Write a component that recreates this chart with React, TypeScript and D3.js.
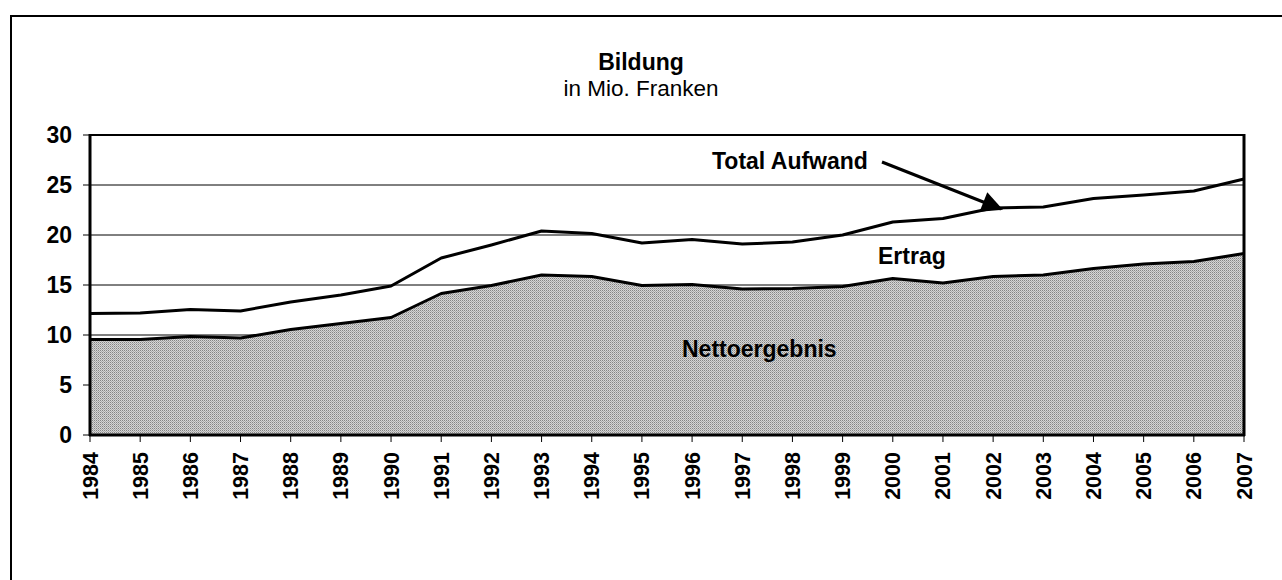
import React from "react";
import * as d3 from "d3";

const years = [1984,1985,1986,1987,1988,1989,1990,1991,1992,1993,1994,1995,1996,1997,1998,1999,2000,2001,2002,2003,2004,2005,2006,2007];
const totalAufwand = [12.15,12.2,12.55,12.4,13.3,14.0,14.9,17.7,19.0,20.4,20.15,19.2,19.55,19.1,19.3,20.0,21.3,21.65,22.7,22.8,23.65,24.0,24.4,25.6];
const nettoergebnis = [9.55,9.55,9.85,9.7,10.55,11.15,11.75,14.15,14.95,16.0,15.85,14.95,15.05,14.6,14.65,14.85,15.65,15.2,15.85,16.0,16.65,17.1,17.35,18.15];
const yTicks = [0,5,10,15,20,25,30];
const gridValues = [10,15,20,25];

const W = 1282, H = 580;
const left = 90, right = 1244, top = 135, bottom = 435;
const font = "'Liberation Sans', Arial, sans-serif";

export default function App() {
  const x = d3.scaleLinear().domain([years[0], years[years.length - 1]]).range([left, right]);
  const y = d3.scaleLinear().domain([0, 30]).range([bottom, top]);

  const areaTotal = d3.area<number>().x((_, i) => x(years[i])).y0(bottom).y1(d => y(d));
  const line = d3.line<number>().x((_, i) => x(years[i])).y(d => y(d));

  return (
    <svg width={W} height={H} style={{ position: "absolute", left: 0, top: 0, display: "block" }}>
      <defs>
        <pattern id="dots" width="2" height="2" patternUnits="userSpaceOnUse">
          <rect width="2" height="2" fill="#d6d6d6" />
          <rect x="0" y="0" width="1" height="1" fill="#858585" />
          <rect x="1" y="1" width="1" height="1" fill="#ababab" />
        </pattern>
        <marker id="arrow" viewBox="0 0 10 10" refX="9" refY="5" markerWidth="8" markerHeight="7" markerUnits="strokeWidth" orient="auto">
          <path d="M0,0 L10,5 L0,10 z" fill="#000" />
        </marker>
      </defs>
      <rect x={0} y={0} width={W} height={H} fill="#fff" />
      <rect x={11} y={16} width={W + 20} height={H + 20} fill="none" stroke="#000" strokeWidth={2} />

      <text x={641} y={70} textAnchor="middle" fontFamily={font} fontWeight="bold" fontSize={23}>Bildung</text>
      <text x={641} y={96} textAnchor="middle" fontFamily={font} fontSize={22.5}>in Mio. Franken</text>

      {gridValues.map(v => (
        <line key={v} x1={left} x2={right} y1={y(v)} y2={y(v)} stroke="#000" strokeWidth={1} />
      ))}

      <path d={areaTotal(nettoergebnis) || ""} fill="url(#dots)" />
      <path d={line(totalAufwand) || ""} fill="none" stroke="#000" strokeWidth={3} strokeLinejoin="round" />
      <path d={line(nettoergebnis) || ""} fill="none" stroke="#000" strokeWidth={3} strokeLinejoin="round" />

      <line x1={left} x2={right} y1={top} y2={top} stroke="#000" strokeWidth={2} />
      <line x1={left} x2={left} y1={top - 1} y2={bottom + 1} stroke="#000" strokeWidth={3} />
      <line x1={right} x2={right} y1={top - 1} y2={bottom + 1} stroke="#000" strokeWidth={3} />
      <line x1={left - 1} x2={right + 1} y1={bottom} y2={bottom} stroke="#000" strokeWidth={3} />

      {yTicks.map(v => (
        <g key={v}>
          <line x1={left - 7} x2={left} y1={y(v)} y2={y(v)} stroke="#000" strokeWidth={1} />
          <text x={72} y={y(v) + 8} textAnchor="end" fontFamily={font} fontWeight="bold" fontSize={23}>{v}</text>
        </g>
      ))}

      {years.map(yr => (
        <g key={yr}>
          <line x1={x(yr)} x2={x(yr)} y1={bottom} y2={bottom + 7} stroke="#000" strokeWidth={1} />
          <text transform={`translate(${x(yr) + 7.5},${452}) rotate(-90)`} textAnchor="end" fontFamily={font} fontWeight="bold" fontSize={21.5}>{yr}</text>
        </g>
      ))}

      <text x={712} y={169} fontFamily={font} fontWeight="bold" fontSize={23}>Total Aufwand</text>
      <line x1={882} y1={162} x2={1001} y2={209} stroke="#000" strokeWidth={3} markerEnd="url(#arrow)" />
      <text x={878} y={264} fontFamily={font} fontWeight="bold" fontSize={23}>Ertrag</text>
      <text x={682} y={357} fontFamily={font} fontWeight="bold" fontSize={23}>Nettoergebnis</text>
    </svg>
  );
}
